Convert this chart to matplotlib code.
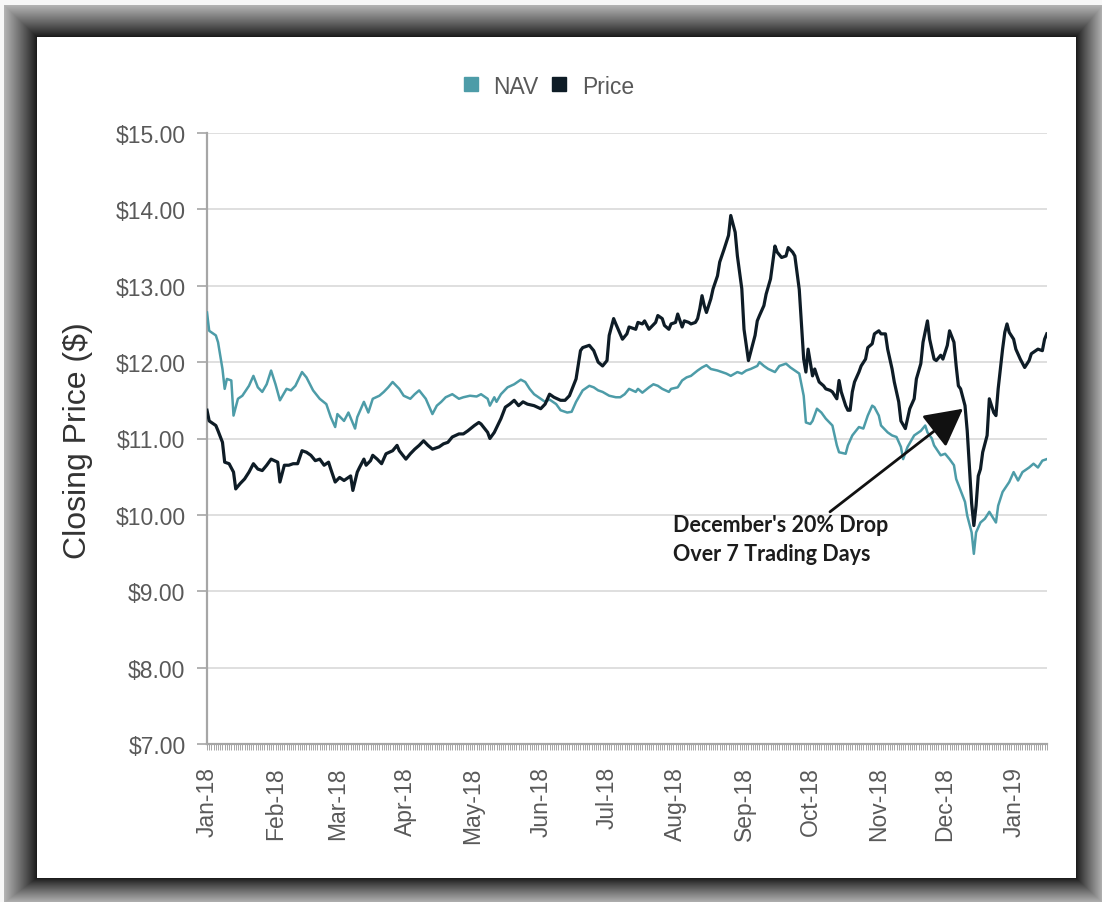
import numpy as np
import pandas as pd
import matplotlib
matplotlib.use("Agg")
import matplotlib.pyplot as plt
import matplotlib.dates as mdates
from matplotlib.lines import Line2D

# ---------------- data ----------------
# day numbers are days after 1 Jan 2018
nav_days = [1, 2, 5, 6, 8, 9, 10, 12, 13, 15, 17, 20, 22, 24, 26, 28, 30, 32, 34, 37,
            39, 41, 44, 46, 49, 52, 55, 57, 59, 60, 63, 65, 68, 69, 72, 74, 76, 79, 81, 83,
            85, 88, 90, 93, 95, 97, 100, 103, 105, 107, 109, 112, 115, 117, 120, 123, 125, 128, 129, 131,
            132, 134, 137, 140, 143, 145, 147, 149, 152, 154, 156, 159, 161, 164, 166, 168, 171, 174, 176, 178,
            180, 183, 186, 188, 190, 192, 195, 196, 198, 201, 203, 205, 207, 210, 211, 214, 216, 218, 220, 223,
            225, 227, 229, 232, 234, 236, 238, 241, 243, 245, 247, 250, 251, 253, 255, 258, 260, 263, 265, 267,
            269, 271, 272, 274, 275, 277, 279, 281, 284, 286, 287, 290, 291, 293, 296, 298, 300, 302, 303, 305,
            306, 309, 311, 313, 315, 316, 318, 321, 324, 326, 327, 329, 330, 333, 335, 337, 339, 340, 342, 344,
            345, 347, 348, 349, 351, 353, 355, 358, 359, 361, 364, 366, 368, 370, 373, 375, 377, 379, 381]
nav_vals = [12.65, 12.41, 12.35, 12.26, 11.91, 11.65, 11.78, 11.76, 11.30, 11.52, 11.56, 11.69, 11.82, 11.67, 11.61, 11.71, 11.89, 11.71, 11.50, 11.65,
            11.63, 11.69, 11.87, 11.80, 11.63, 11.52, 11.45, 11.28, 11.15, 11.32, 11.23, 11.34, 11.13, 11.28, 11.48, 11.34, 11.52, 11.56, 11.61, 11.67,
            11.74, 11.65, 11.56, 11.52, 11.58, 11.63, 11.52, 11.32, 11.43, 11.48, 11.54, 11.58, 11.52, 11.54, 11.56, 11.55, 11.58, 11.52, 11.43, 11.54,
            11.48, 11.58, 11.67, 11.71, 11.77, 11.74, 11.65, 11.58, 11.52, 11.48, 11.51, 11.45, 11.37, 11.34, 11.35, 11.48, 11.63, 11.69, 11.67, 11.63,
            11.61, 11.56, 11.54, 11.54, 11.58, 11.65, 11.61, 11.65, 11.60, 11.67, 11.71, 11.69, 11.65, 11.61, 11.65, 11.67, 11.76, 11.80, 11.82, 11.89,
            11.93, 11.96, 11.91, 11.89, 11.87, 11.85, 11.82, 11.87, 11.85, 11.89, 11.91, 11.95, 12.00, 11.95, 11.91, 11.87, 11.95, 11.98, 11.93, 11.89,
            11.85, 11.56, 11.21, 11.19, 11.23, 11.39, 11.34, 11.26, 11.17, 10.91, 10.82, 10.80, 10.91, 11.04, 11.15, 11.13, 11.30, 11.43, 11.41, 11.30,
            11.17, 11.08, 11.04, 11.02, 10.89, 10.73, 10.89, 11.04, 11.10, 11.17, 11.08, 11.00, 10.91, 10.78, 10.80, 10.73, 10.65, 10.47, 10.32, 10.17,
            9.99, 9.77, 9.49, 9.77, 9.90, 9.95, 10.04, 9.90, 10.12, 10.30, 10.43, 10.56, 10.45, 10.56, 10.62, 10.67, 10.62, 10.71, 10.73]

price_days = [1, 2, 5, 6, 8, 9, 11, 13, 14, 16, 18, 20, 22, 24, 26, 28, 30, 33, 34, 36,
              38, 40, 42, 44, 46, 48, 50, 52, 54, 56, 57, 59, 61, 63, 66, 67, 69, 70, 72, 73,
              75, 76, 78, 80, 82, 85, 87, 88, 91, 93, 95, 97, 99, 101, 103, 106, 108, 110, 112, 115,
              117, 119, 122, 124, 125, 128, 129, 131, 134, 136, 138, 140, 142, 144, 146, 149, 152, 154, 156, 158,
              161, 163, 165, 168, 170, 171, 174, 176, 178, 180, 182, 183, 185, 186, 189, 191, 192, 195, 196, 198,
              199, 201, 202, 204, 205, 207, 208, 210, 211, 213, 214, 216, 217, 219, 220, 222, 223, 224, 225, 226,
              227, 229, 230, 232, 233, 235, 237, 238, 240, 241, 243, 244, 246, 247, 249, 250, 251, 253, 254, 256,
              257, 258, 259, 261, 263, 264, 266, 267, 269, 270, 271, 272, 273, 275, 276, 277, 278, 280, 281, 283,
              284, 286, 287, 288, 290, 291, 292, 293, 294, 296, 297, 299, 300, 302, 303, 305, 306, 308, 309, 311,
              312, 314, 315, 317, 319, 321, 322, 324, 325, 327, 328, 330, 331, 333, 334, 336, 337, 339, 340, 341,
              342, 344, 345, 346, 347, 348, 349, 350, 351, 352, 354, 355, 357, 358, 359, 361, 362, 363, 364, 366,
              367, 369, 371, 373, 374, 376, 377, 379, 380, 381]
price_vals = [11.37, 11.23, 11.17, 11.10, 10.95, 10.69, 10.67, 10.56, 10.34, 10.41, 10.47, 10.56, 10.67, 10.60, 10.58, 10.65, 10.73, 10.69, 10.43, 10.65,
              10.65, 10.67, 10.67, 10.84, 10.82, 10.78, 10.71, 10.73, 10.65, 10.69, 10.60, 10.43, 10.49, 10.45, 10.51, 10.32, 10.56, 10.62, 10.73, 10.65,
              10.71, 10.78, 10.73, 10.67, 10.80, 10.84, 10.91, 10.84, 10.73, 10.80, 10.86, 10.91, 10.97, 10.91, 10.86, 10.89, 10.93, 10.95, 11.02, 11.06,
              11.06, 11.10, 11.17, 11.21, 11.19, 11.08, 11.00, 11.08, 11.26, 11.41, 11.45, 11.50, 11.43, 11.48, 11.45, 11.43, 11.39, 11.45, 11.58, 11.54,
              11.50, 11.50, 11.56, 11.78, 12.15, 12.19, 12.22, 12.15, 12.00, 11.95, 12.02, 12.35, 12.57, 12.50, 12.30, 12.37, 12.46, 12.43, 12.52, 12.50,
              12.54, 12.43, 12.46, 12.52, 12.61, 12.57, 12.48, 12.43, 12.50, 12.52, 12.63, 12.46, 12.54, 12.52, 12.50, 12.52, 12.57, 12.70, 12.87, 12.74,
              12.65, 12.83, 12.96, 13.13, 13.31, 13.48, 13.66, 13.92, 13.70, 13.39, 12.96, 12.43, 12.02, 12.13, 12.35, 12.54, 12.61, 12.74, 12.89, 13.09,
              13.31, 13.52, 13.44, 13.37, 13.39, 13.50, 13.44, 13.39, 12.95, 12.50, 12.04, 11.87, 12.17, 11.82, 11.91, 11.82, 11.74, 11.69, 11.65, 11.63,
              11.61, 11.52, 11.76, 11.61, 11.43, 11.37, 11.37, 11.61, 11.74, 11.87, 11.95, 12.04, 12.19, 12.24, 12.37, 12.41, 12.37, 12.37, 12.17, 11.91,
              11.74, 11.48, 11.23, 11.13, 11.39, 11.52, 11.78, 11.98, 12.26, 12.54, 12.30, 12.04, 12.02, 12.09, 12.04, 12.22, 12.41, 12.26, 11.95, 11.69,
              11.65, 11.43, 11.10, 10.62, 10.15, 9.86, 10.12, 10.51, 10.60, 10.82, 11.04, 11.52, 11.34, 11.30, 11.65, 12.17, 12.39, 12.50, 12.39, 12.30,
              12.17, 12.04, 11.93, 12.02, 12.11, 12.15, 12.17, 12.15, 12.30, 12.37]

series_names = ["NAV", "Price"]
y_ticks = [7, 8, 9, 10, 11, 12, 13, 14, 15]
y_label = "Closing Price ($)"
note_lines = ["December's 20% Drop", "Over 7 Trading Days"]
arrow_tail = (282.9, 10.04)   # (day, $)
arrow_tip = (343.1, 11.39)

# ---------------- styles ----------------
NAV_C = "#4d9ca8"
PRICE_C = "#0e1c26"
GRAY_TXT = "#595959"
AX_C = "#a6a6a6"
GRID_C = "#dcdcdc"

base = pd.Timestamp("2018-01-01")
def to_date(d):
    return base + pd.to_timedelta(np.asarray(d, dtype=float), unit="D")

W, H = 1102, 903
fig = plt.figure(figsize=(W / 100, H / 100), dpi=100)

# picture-frame background
r = np.arange(H)[:, None].astype(float)
c = np.arange(W)[None, :].astype(float)
t = np.maximum.reduce([
    np.broadcast_to((38 - r) / 32, (H, W)),
    np.broadcast_to((37 - c) / 33, (H, W)),
    np.broadcast_to((r - 878) / 25, (H, W)),
    np.broadcast_to((c - 1075) / 27, (H, W)),
])
g = np.where(t <= 0, 1.0, 0.08 + 0.62 * np.clip(t, 0, 1) ** 0.9)
g = np.where(t > 1.0, 0.97, g)
frame = np.dstack([g, g, g])
fig.figimage(frame, xo=0, yo=0, origin="upper", zorder=-10)

ax = fig.add_axes([207 / W, 1 - 745 / H, 840 / W, 611 / H])
ax.set_facecolor("white")

ax.plot(to_date(nav_days), nav_vals, color=NAV_C, lw=1.8, zorder=3, solid_joinstyle="round")
ax.plot(to_date(price_days), price_vals, color=PRICE_C, lw=2.3, zorder=4, solid_joinstyle="round")

ax.set_ylim(7, 15)
ax.set_yticks(y_ticks)
ax.set_yticklabels([f"${v:.2f}" for v in y_ticks])
ax.set_xlim(pd.Timestamp("2018-01-02"), pd.Timestamp("2018-01-02") + pd.Timedelta(days=380.1))
ax.xaxis.set_major_locator(mdates.MonthLocator(bymonthday=2))
ax.xaxis.set_major_formatter(mdates.DateFormatter("%b-%y"))
ax.xaxis.set_minor_locator(mdates.DayLocator())

for s in ["top", "right"]:
    ax.spines[s].set_visible(False)
for s in ["left", "bottom"]:
    ax.spines[s].set_color(AX_C)
    ax.spines[s].set_linewidth(1.6)

ax.grid(axis="y", color=GRID_C, lw=1.3, zorder=0)
ax.set_axisbelow(True)

ax.tick_params(axis="y", which="major", length=7, width=1.2, color=AX_C, pad=8.5,
               labelsize=16.5, labelcolor=GRAY_TXT)
ax.tick_params(axis="x", which="major", length=4.5, width=0.7, color=AX_C, pad=11.5,
               labelsize=16.5, labelcolor=GRAY_TXT, labelrotation=90)
ax.tick_params(axis="x", which="minor", length=4.5, width=0.7, color=AX_C)
for lab in ax.get_xticklabels() + ax.get_yticklabels():
    lab.set_fontfamily(["Liberation Sans", "DejaVu Sans"])

fig.text(78 / W, 1 - 441 / H, y_label, rotation=90, ha="center", va="center",
         fontsize=23, color="#333333", family=["Liberation Sans", "DejaVu Sans"])

handles = [Line2D([], [], ls="none", marker="s", markersize=10.5, color=NAV_C),
           Line2D([], [], ls="none", marker="s", markersize=10.5, color=PRICE_C)]
leg = fig.legend(handles, series_names, loc="center", bbox_to_anchor=(549 / W, 1 - 87 / H),
                 ncol=2, frameon=False, handlelength=0.6, handletextpad=0.7, columnspacing=0.6,
                 prop={"family": ["Liberation Sans", "DejaVu Sans"], "size": 16.5})
for txt in leg.get_texts():
    txt.set_color(GRAY_TXT)

ax.annotate("", xy=(to_date([arrow_tip[0]])[0], arrow_tip[1]),
            xytext=(to_date([arrow_tail[0]])[0], arrow_tail[1]),
            arrowprops=dict(arrowstyle="-|>,head_length=1.17,head_width=0.62", mutation_scale=20,
                            lw=2.0, color="#111111", shrinkA=0, shrinkB=0), zorder=6)

note_x = to_date([212.0])[0]
for line, yb in zip(note_lines, [9.79, 9.41]):
    ax.text(note_x, yb, line, ha="left", va="baseline", fontsize=15.5, fontweight="bold",
            color="#1c1c1c", family=["Lato", "DejaVu Sans"], zorder=7)

fig.savefig("out.png", dpi=100)
